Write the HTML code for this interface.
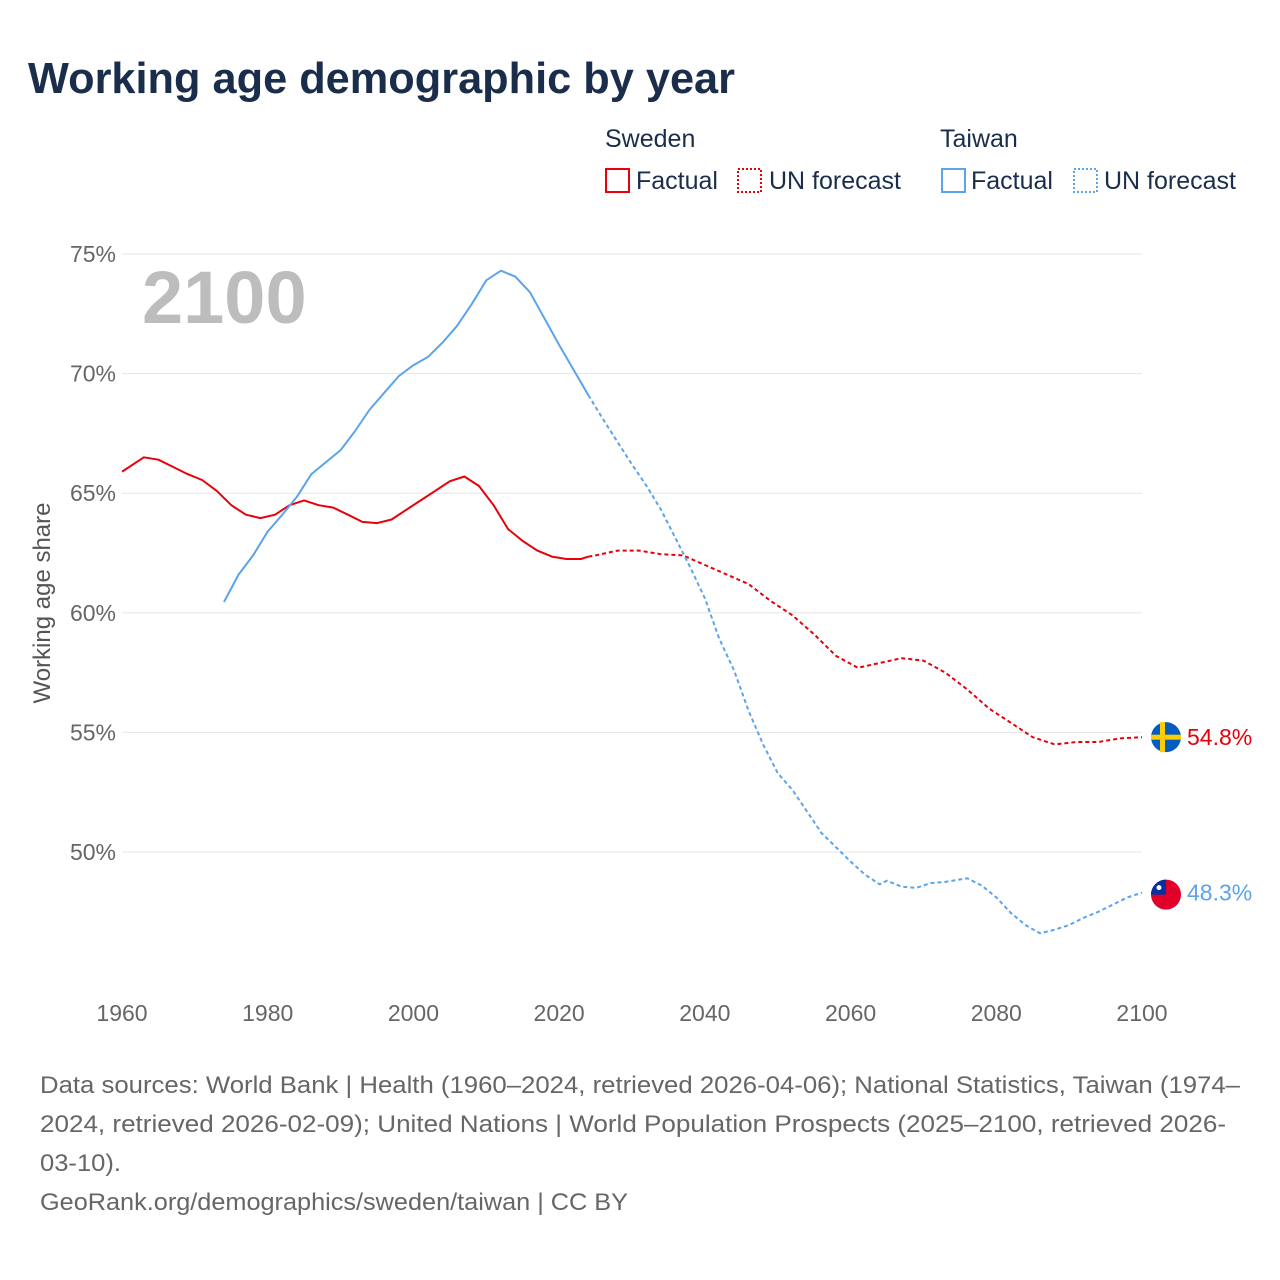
<!DOCTYPE html>
<html><head><meta charset="utf-8">
<style>
body{margin:0;background:#fff;font-family:"Liberation Sans",sans-serif;}
#wrap{position:relative;width:1280px;height:1280px;overflow:hidden;}
svg text{font-family:"Liberation Sans",sans-serif;}
</style></head>
<body>
<div id="wrap">
<svg id="chart" width="1280" height="1280">
<text x="28" y="93" font-size="44" font-weight="bold" fill="#1a2e4c" textLength="707" lengthAdjust="spacingAndGlyphs">Working age demographic by year</text>
<g font-size="25" fill="#1a2e4c">
<text x="605" y="147" fill="#1a2e4c">Sweden</text>
<rect x="606" y="169" width="23" height="23" fill="none" stroke="#e8000b" stroke-width="2"/>
<text x="636" y="189" fill="#1a2e4c">Factual</text>
<rect x="738" y="169" width="23" height="23" fill="none" stroke="#e8000b" stroke-width="2" stroke-dasharray="2,2"/>
<text x="769" y="189" fill="#1a2e4c">UN forecast</text>
<text x="940" y="147" fill="#1a2e4c">Taiwan</text>
<rect x="942" y="169" width="23" height="23" fill="none" stroke="#5ba4ec" stroke-width="2"/>
<text x="971" y="189" fill="#1a2e4c">Factual</text>
<rect x="1074" y="169" width="23" height="23" fill="none" stroke="#5ba4ec" stroke-width="2" stroke-dasharray="2,2"/>
<text x="1104" y="189" fill="#1a2e4c">UN forecast</text>
</g>
<text x="142" y="323" font-size="74" font-weight="bold" fill="#bdbdbd">2100</text>
<text transform="translate(50,603) rotate(-90)" text-anchor="middle" font-size="24" fill="#555">Working age share</text>
<g id="grid"></g><g id="series"></g>
<g font-size="24" fill="#666">
<text x="40" y="1093" textLength="1200" lengthAdjust="spacingAndGlyphs">Data sources: World Bank | Health (1960–2024, retrieved 2026-04-06); National Statistics, Taiwan (1974–</text>
<text x="40" y="1132" textLength="1186" lengthAdjust="spacingAndGlyphs">2024, retrieved 2026-02-09); United Nations | World Population Prospects (2025–2100, retrieved 2026-</text>
<text x="40" y="1171" textLength="81" lengthAdjust="spacingAndGlyphs">03-10).</text>
<text x="40" y="1210" textLength="588" lengthAdjust="spacingAndGlyphs">GeoRank.org/demographics/sweden/taiwan | CC BY</text>
</g>
</svg>
</div>
<script>
const yTicks=[50,55,60,65,70,75];
const xTicks=[1960,1980,2000,2020,2040,2060,2080,2100];
const seYearsF=[1960,1962,1963,1965,1967,1969,1971,1973,1975,1977,1979,1981,1983,1985,1987,1989,1991,1993,1995,1997,1999,2001,2003,2005,2007,2009,2011,2013,2015,2017,2019,2021,2023,2024];
const seValsF=[65.9,66.3,66.5,66.4,66.1,65.8,65.55,65.1,64.5,64.1,63.96,64.1,64.5,64.7,64.5,64.4,64.1,63.8,63.75,63.9,64.3,64.7,65.1,65.5,65.7,65.3,64.5,63.5,63.0,62.6,62.35,62.25,62.25,62.35];
const seYearsP=[2024,2025,2028,2031,2034,2037,2040,2043,2046,2049,2052,2055,2058,2061,2064,2067,2070,2073,2076,2079,2082,2085,2088,2091,2094,2097,2100];
const seValsP=[62.35,62.4,62.6,62.6,62.45,62.4,62.0,61.6,61.2,60.5,59.9,59.1,58.2,57.7,57.9,58.1,58.0,57.5,56.8,56.0,55.4,54.8,54.5,54.6,54.6,54.75,54.8];
const twYearsF=[1974,1976,1978,1980,1982,1984,1986,1988,1990,1992,1994,1996,1998,2000,2002,2004,2006,2008,2010,2012,2014,2016,2018,2020,2022,2024];
const twValsF=[60.45,61.6,62.4,63.4,64.1,64.85,65.8,66.3,66.8,67.6,68.5,69.2,69.9,70.35,70.7,71.3,72.0,72.9,73.9,74.3,74.05,73.4,72.3,71.2,70.15,69.1];
const twYearsP=[2024,2026,2028,2030,2032,2034,2036,2038,2040,2042,2044,2046,2048,2050,2052,2054,2056,2058,2060,2062,2064,2065,2067,2069,2071,2073,2076,2078,2080,2082,2084,2086,2088,2090,2092,2094,2096,2098,2100];
const twValsP=[69.1,68.1,67.15,66.2,65.3,64.3,63.1,61.9,60.6,58.9,57.6,55.9,54.5,53.3,52.6,51.7,50.8,50.2,49.6,49.05,48.65,48.8,48.55,48.5,48.7,48.75,48.9,48.6,48.1,47.45,46.95,46.6,46.75,46.95,47.25,47.5,47.8,48.1,48.3];
const NS='http://www.w3.org/2000/svg';
const xS=y=>122+(y-1960)*1020/140;
const yS=v=>852-(v-50)*598/25;
function mk(tag,attrs,parent){const e=document.createElementNS(NS,tag);for(const k in attrs)e.setAttribute(k,attrs[k]);parent.appendChild(e);return e;}
const grid=document.getElementById('grid');
yTicks.forEach(t=>{
  const l=mk('line',{x1:122,x2:1142,y1:yS(t),y2:yS(t),stroke:'#e6e6e6','stroke-width':1},grid);
  
  
  const tx=mk('text',{x:116,y:yS(t)+8,'text-anchor':'end','font-size':23,fill:'#666'},grid);
  tx.textContent=t+'%';
  
  
});
xTicks.forEach(t=>{
  const tx=mk('text',{x:xS(t),y:1021,'text-anchor':'middle','font-size':23,fill:'#666'},grid);
  tx.textContent=t;
  
  
});
const ser=document.getElementById('series');
function line(xs,vs,color,dash,name){
  const d=xs.map((x,i)=>(i?'L':'M')+xS(x).toFixed(1)+','+yS(vs[i]).toFixed(1)).join('');
  const p=mk('path',{d:d,fill:'none',stroke:color,'stroke-width':2,'stroke-linejoin':'round'},ser);
  if(dash)p.setAttribute('stroke-dasharray','4,3');
  
  
}
line(seYearsF,seValsF,'#e8000b',false,'sweden-factual-line');
line(seYearsP,seValsP,'#e8000b',true,'sweden-forecast-line');
line(twYearsF,twValsF,'#5ba4ec',false,'taiwan-factual-line');
line(twYearsP,twValsP,'#5ba4ec',true,'taiwan-forecast-line');
const sv=seValsP[seValsP.length-1], tv=twValsP[twValsP.length-1];
const fx=1166;
const sf=mk('g',{},ser);


mk('circle',{cx:fx,cy:yS(sv),r:15,fill:'#005cbf'},sf);
mk('rect',{x:fx-15,y:yS(sv)-2.5,width:30,height:5,fill:'#fecc00'},sf);
mk('rect',{x:fx-6,y:yS(sv)-15,width:5,height:30,fill:'#fecc00'},sf);
const tf=mk('g',{},ser);


mk('circle',{cx:fx,cy:yS(tv)+2,r:15,fill:'#e0002a'},tf);
mk('path',{d:`M${fx-15},${yS(tv)+2} A15,15 0 0 1 ${fx},${yS(tv)-13} L${fx},${yS(tv)+2} Z`,fill:'#0033a0'},tf);
mk('circle',{cx:fx-7,cy:yS(tv)-5,r:2.5,fill:'#fff'},tf);
const sl=mk('text',{x:1187,y:yS(sv)+8,'font-size':23,fill:'#e8000b'},ser);
sl.textContent=sv.toFixed(1)+'%';


const tl=mk('text',{x:1187,y:yS(tv)+8,'font-size':23,fill:'#5ba4ec'},ser);
tl.textContent=tv.toFixed(1)+'%';


</script>
</body></html>
